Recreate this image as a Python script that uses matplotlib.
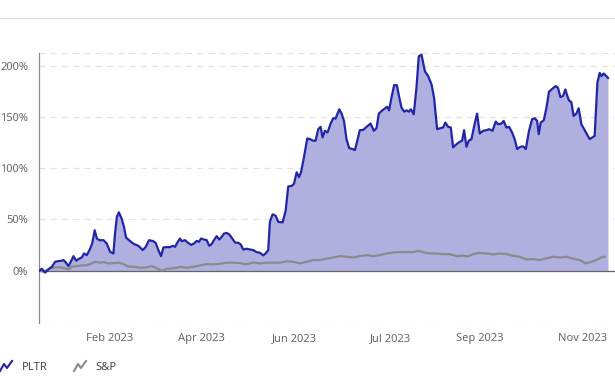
import numpy as np
import matplotlib
matplotlib.use("Agg")
import matplotlib.pyplot as plt
from matplotlib.lines import Line2D

# --- data: cumulative return in %, x = calendar days since 3 Jan 2023 ---
pltr_days = [0, 1.3, 3.1, 5.0, 6.9, 8.7, 10.6, 12.4, 13.3, 14.6, 16.1, 17.4, 18.9, 20.4, 22.0,
             23.5, 24.8, 26.3, 27.8, 29.3, 30.7, 31.9, 33.3, 35.6, 37.4, 39.3, 41.1, 42.0, 43.0,
             44.1, 45.7, 47.0, 48.1, 49.4, 51.3, 53.1, 55.0, 57.4, 59.1, 60.9, 63.3, 64.6, 66.1,
             67.6, 68.9, 70.7, 72.6, 74.1, 75.4, 76.9, 78.1, 79.1, 80.9, 82.4, 84.3, 85.9, 87.4,
             88.7, 89.8, 91.5, 93.0, 94.4, 95.7, 97.0, 98.5, 100.0, 101.3, 102.6, 104.1, 105.6,
             107.2, 108.7, 110.6, 111.9, 113.3, 115.2, 117.0, 118.9, 120.7, 122.6, 124.4, 125.7,
             127.2, 128.1, 129.6, 131.3, 132.8, 135.2, 136.9, 138.3, 140.2, 141.5, 143.0, 144.3,
             145.4, 146.7, 148.9, 150.4, 152.2, 153.5, 155.0, 156.3, 157.4, 158.7, 160.2, 161.9,
             163.3, 164.6, 166.7, 168.0, 169.3, 170.7, 172.2, 174.1, 175.4, 176.7, 178.1, 180.0,
             181.9, 184.1, 185.9, 187.4, 188.7, 190.2, 192.0, 193.3, 194.4, 195.7, 197.2, 198.7,
             200.0, 201.3, 202.8, 204.1, 205.4, 206.5, 208.1, 209.6, 210.9, 212.4, 214.3, 216.1,
             218.0, 219.4, 221.1, 223.0, 224.4, 225.7, 227.2, 228.7, 230.0, 231.9, 233.7, 235.0,
             236.1, 237.4, 238.7, 240.2, 241.7, 243.3, 244.8, 246.7, 248.5, 250.0, 251.9, 253.7,
             255.0, 256.9, 258.1, 259.6, 261.1, 262.8, 264.2, 265.6, 267.4, 268.9, 270.4, 272.2,
             273.9, 275.4, 276.7, 277.6, 278.7, 280.4, 281.9, 283.3, 285.2, 287.0, 288.3, 289.6,
             291.1, 292.4, 293.5, 294.4, 295.7, 297.0, 298.5, 299.8, 301.3, 302.8, 304.4, 305.9,
             307.4, 308.7, 310.2, 311.5, 312.4, 313.7, 315.2, 316.1]
pltr_ret = [0, 1.9, -1.9, 1.3, 3.9, 8.7, 9.4, 9.7, 10.4, 8.1, 4.5, 8.7, 14.2, 9.7, 11.7,
            12.9, 16.8, 15.2, 20.1, 26.5, 39.5, 31.4, 29.8, 29.8, 26.5, 18.4, 16.8, 36.2, 52.4,
            57.0, 50.8, 42.7, 32.4, 30.4, 27.5, 25.6, 24.3, 20.1, 23.3, 29.8, 28.8, 27.2, 20.1,
            14.2, 22.7, 23.0, 23.0, 24.3, 23.3, 28.2, 31.4, 28.8, 29.8, 27.5, 25.2, 26.5, 29.1,
            28.2, 31.4, 30.4, 29.8, 24.3, 25.9, 29.8, 33.7, 30.4, 33.0, 36.2, 36.9, 35.3,
            31.4, 27.5, 27.2, 25.6, 20.7, 21.4, 20.7, 20.1, 18.1, 17.5, 14.9, 16.8,
            20.1, 47.6, 55.0, 53.7, 47.6, 47.2, 58.9, 82.2, 82.8, 84.8, 96.1, 91.3,
            96.1, 107.4, 129.1, 128.5, 126.9, 126.9, 138.2, 140.5, 130.1, 136.6, 135.0, 143.7,
            148.9, 148.5, 157.6, 153.4, 146.3, 128.5, 119.7, 118.8, 117.8, 126.9, 137.2, 137.5,
            140.5, 143.7, 136.6, 139.2, 153.4, 156.0, 158.3, 160.2, 156.6, 168.9, 181.2, 181.2,
            169.6, 159.2, 155.3, 156.6, 155.3, 157.6, 152.8, 178.6, 209.4, 211.0, 194.8, 190.0,
            181.9, 168.9, 138.2, 139.2, 139.8, 144.7, 140.5, 139.8, 120.4, 123.6, 125.9, 126.9,
            137.2, 121.0, 126.9, 128.5, 141.4, 153.4, 134.0, 136.6, 137.2, 138.2, 136.6, 145.6,
            143.0, 143.7, 146.3, 139.8, 140.5, 134.9, 128.5, 118.8, 121.0, 121.4, 118.8, 136.6,
            147.9, 148.9, 146.3, 133.3, 144.7, 146.9, 159.2, 174.8, 177.7, 180.3, 178.6, 169.6,
            170.6, 177.0, 170.6, 166.3, 164.7, 151.1, 153.4, 158.6, 143.0, 138.2, 133.3, 128.5,
            130.1, 131.7, 183.5, 193.2, 190.0, 192.6, 190.0, 188.3]

sp_days = [0, 2.2, 4.1, 5.9, 8.7, 11.5, 14.3, 16.1, 18.0, 20.7, 23.5, 26.3, 29.1, 30.9, 33.7,
           35.9, 38.3, 41.1, 43.9, 46.7, 49.4, 52.2, 55.9, 59.6, 62.4, 65.2, 68.0, 70.7, 74.4,
           78.1, 81.9, 85.6, 89.3, 93.0, 96.7, 100.4, 104.1, 107.8, 111.5, 115.2, 118.9, 122.6,
           126.3, 130.0, 133.7, 137.4, 141.1, 144.8, 148.5, 152.2, 155.9, 159.6, 163.3, 167.0,
           170.7, 174.4, 178.1, 181.9, 185.6, 189.3, 193.0, 196.7, 200.4, 204.1, 207.8, 210.6,
           213.3, 217.0, 220.7, 224.4, 228.1, 231.9, 235.6, 238.3, 241.1, 244.8, 248.5, 252.2,
           255.9, 259.6, 263.3, 267.0, 270.7, 274.4, 278.1, 281.9, 285.6, 289.3, 293.0, 296.7,
           300.4, 303.7, 306.9, 309.6, 312.4, 314.3]
sp_ret = [0, -1.0, 0.6, 2.3, 3.2, 3.2, 2.3, 1.3, 3.9, 4.5, 5.2, 5.2, 7.1, 8.7, 7.8,
          8.4, 7.1, 7.4, 7.8, 6.5, 3.9, 3.9, 2.9, 3.2, 4.5, 2.3, 0.0, 1.9, 2.3,
          3.6, 2.9, 3.9, 5.2, 6.5, 6.1, 6.8, 7.8, 7.8, 7.4, 6.1, 8.1, 7.1,
          7.8, 7.8, 7.8, 9.1, 8.7, 7.1, 8.7, 10.4, 10.4, 11.7, 12.9, 14.2,
          13.6, 12.9, 14.2, 15.2, 14.2, 15.2, 16.8, 17.8, 18.1, 18.1, 18.1, 19.4,
          18.1, 16.8, 16.8, 16.2, 16.2, 14.2, 14.6, 13.9, 16.2, 17.5, 16.8, 15.9,
          16.8, 16.2, 14.6, 13.6, 11.0, 11.3, 10.4, 12.0, 13.6, 12.9, 13.6, 11.7,
          10.4, 7.1, 8.7, 10.4, 12.9, 13.6]

tick_days = [39, 90, 142, 195, 245, 302]
tick_labels = ["Feb 2023", "Apr 2023", "Jun 2023", "Jul 2023", "Sep 2023", "Nov 2023"]
y_ticks = [0, 50, 100, 150, 200]

BLUE = "#2125a8"
FILL = "#b0b0e0"
GREY = "#8a8a8a"

plt.rcParams["font.family"] = ["Noto Sans", "DejaVu Sans"]

fig = plt.figure(figsize=(6.15, 3.81), dpi=100)
ax = fig.add_axes([0.0642, 0.1514, 0.9358, 0.7087])

ax.fill_between(pltr_days, pltr_ret, 0, color=FILL, lw=0, zorder=1)
ax.axhline(0, color="#666666", lw=0.9, zorder=2)
ax.plot(sp_days, sp_ret, color=GREY, lw=1.6, zorder=3)
ax.plot(pltr_days, pltr_ret, color=BLUE, lw=1.6, zorder=4)

ax.set_xlim(0, 320)
ax.set_ylim(-51.4, 212.3)
ax.set_xticks(tick_days)
ax.set_xticklabels(tick_labels)
ax.set_yticks(y_ticks)
ax.set_yticklabels([f"{v}%" for v in y_ticks])
ax.tick_params(axis="both", length=0, labelsize=8, colors="#666666")
ax.tick_params(axis="y", pad=8)
ax.tick_params(axis="x", pad=7)

# dashed grid, including the frame edges
for yv in y_ticks[1:] + [-51.4, 212.3]:
    ax.axhline(yv, color="#e2e2e2", lw=0.9, ls=(0, (5, 4)), zorder=0)

for side in ["top", "right", "bottom"]:
    ax.spines[side].set_visible(False)
ax.spines["left"].set_color("#8a8a8a")
ax.spines["left"].set_linewidth(0.9)

# separator line at the top
fig.add_artist(Line2D([0, 1], [1 - 18.3 / 381] * 2, transform=fig.transFigure,
                      color="#dddddd", lw=1))

# legend with zig-zag icons
def icon(x0, color):
    xs = np.array([0, 4, 7, 12]) + x0
    ys = np.array([371, 364, 368, 361])
    fig.add_artist(Line2D(xs / 615, 1 - ys / 381, transform=fig.transFigure,
                          color=color, lw=1.5))

icon(0, BLUE)
fig.text(22 / 615, 1 - 367 / 381, "PLTR", fontsize=8, color="#444444", va="center")
icon(74, GREY)
fig.text(95 / 615, 1 - 367 / 381, "S&P", fontsize=8, color="#444444", va="center")

fig.savefig("out.png", dpi=100)
